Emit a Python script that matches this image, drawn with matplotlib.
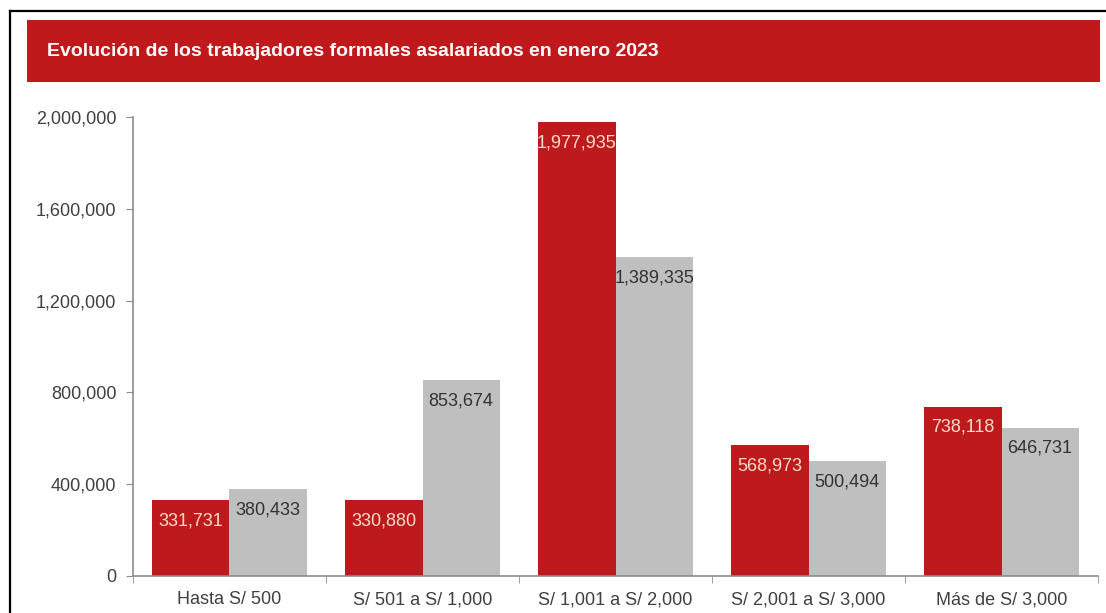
import matplotlib
matplotlib.use("Agg")
import matplotlib.pyplot as plt
from matplotlib.patches import Rectangle
from matplotlib.lines import Line2D
from matplotlib.ticker import FuncFormatter, FixedLocator

plt.rcParams['font.family'] = ['Liberation Sans', 'DejaVu Sans']

# datos
categorias = ["Hasta S/ 500", "S/ 501 a S/ 1,000", "S/ 1,001 a S/ 2,000",
              "S/ 2,001 a S/ 3,000", "Más de S/ 3,000"]
serie_roja = [331731, 330880, 1977935, 568973, 738118]
serie_gris = [380433, 853674, 1389335, 500494, 646731]
y_ticks = [0, 400000, 800000, 1200000, 1600000, 2000000]

ROJO = "#be1a1d"
GRIS = "#bfbfbf"
EJE = "#8c8c8c"
TEXTO = "#404040"

fig = plt.figure(figsize=(11.06, 6.13), dpi=100)

# marco negro (arriba e izquierda) y banda del título
W, H = 1106, 613
fig.add_artist(Line2D([10 / W, 1], [1 - 11 / H, 1 - 11 / H], color="black", lw=1.6))
fig.add_artist(Line2D([10 / W, 10 / W], [0, 1 - 11 / H], color="black", lw=1.6))
fig.patches.append(Rectangle((27 / W, (H - 82) / H), (1100 - 27) / W, 62 / H,
                             transform=fig.transFigure, facecolor="#c0191c",
                             edgecolor="none"))
fig.text(47 / W, (H - 52) / H,
         "Evolución de los trabajadores formales asalariados en enero 2023",
         color="white", fontsize=14, fontweight="bold", va="center", ha="left")

ax = fig.add_axes([133 / W, 37 / H, 965 / W, 459 / H])

x = [i + 0.5 for i in range(len(categorias))]
ancho = 0.4
b1 = ax.bar([v - ancho / 2 for v in x], serie_roja, ancho, color=ROJO)
b2 = ax.bar([v + ancho / 2 for v in x], serie_gris, ancho, color=GRIS)

for barras, valores, col in [(b1, serie_roja, "#f6dcc8"), (b2, serie_gris, "#333333")]:
    for rect, v in zip(barras, valores):
        ax.annotate(f"{v:,}", (rect.get_x() + rect.get_width() / 2, v),
                    xytext=(0, -15), textcoords="offset points",
                    ha="center", va="center", fontsize=13, color=col)

ax.set_xlim(0, len(categorias))
ax.set_ylim(0, 2000000)
ax.set_yticks(y_ticks)
ax.yaxis.set_major_formatter(FuncFormatter(lambda v, p: f"{int(v):,}"))
ax.set_xticks(x)
ax.set_xticklabels(categorias)
ax.xaxis.set_minor_locator(FixedLocator(range(len(categorias) + 1)))

for s in ["top", "right"]:
    ax.spines[s].set_visible(False)
for s in ["left", "bottom"]:
    ax.spines[s].set_color(EJE)
    ax.spines[s].set_linewidth(1.2)

ax.tick_params(axis="y", length=5, color=EJE, labelsize=13, labelcolor=TEXTO, pad=7)
ax.tick_params(axis="x", which="major", length=0, labelsize=13, labelcolor=TEXTO, pad=11)
ax.tick_params(axis="x", which="minor", length=5, color=EJE)

fig.savefig("out.png", dpi=100)
